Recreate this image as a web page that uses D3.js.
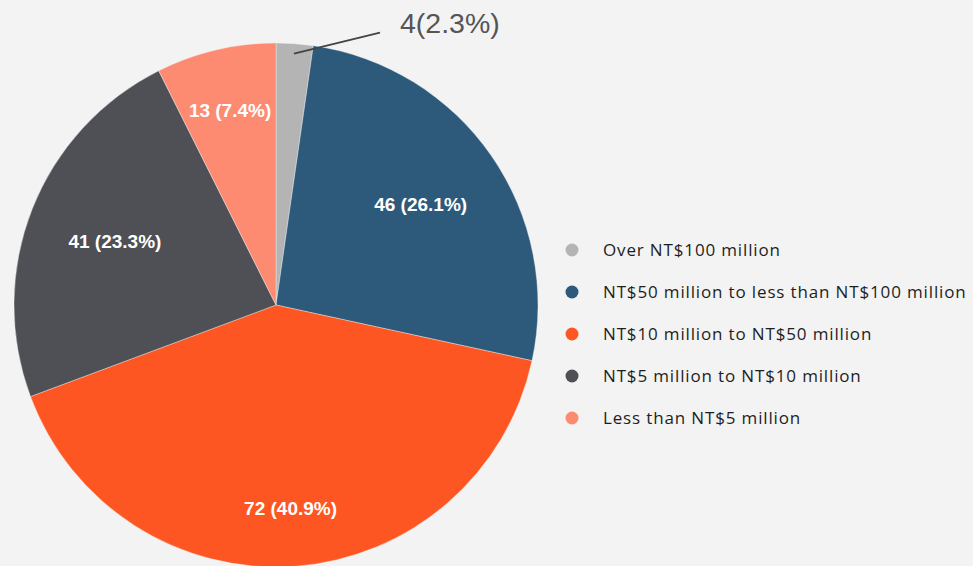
<!DOCTYPE html>
<html>
<head>
<meta charset="utf-8">
<script src="https://cdn.jsdelivr.net/npm/d3@7"></script>
<style>
  body { margin: 0; background: #f3f3f3; }
  svg { display: block; }
</style>
</head>
<body>
<div id="chart"></div>
<script>
// data, in drawing order (clockwise from 12 o'clock)
var categories = [
  "Over NT$100 million",
  "NT$50 million to less than NT$100 million",
  "NT$10 million to NT$50 million",
  "NT$5 million to NT$10 million",
  "Less than NT$5 million"
];
var counts = [4, 46, 72, 41, 13];
var percents = ["2.3%", "26.1%", "40.9%", "23.3%", "7.4%"];
var colors = ["#b4b4b4", "#2d5a7b", "#fe5622", "#4e5055", "#fd8b72"];

var svgWidth = 973;
var svgHeight = 566;

var cx = 276, cy = 305, radius = 262;

var svg = d3.select("#chart")
  .append("svg")
  .attr("width", svgWidth)
  .attr("height", svgHeight);

svg.append("rect")
  .attr("width", svgWidth)
  .attr("height", svgHeight)
  .attr("fill", "#f3f3f3");

var data = categories.map(function(c, i) {
  return { name: c, count: counts[i], pct: percents[i], color: colors[i] };
});

var pie = d3.pie()
  .value(d => d.count)
  .sort(null);

var arcs = pie(data);

var arc = d3.arc()
  .innerRadius(0)
  .outerRadius(radius);

var pieGroup = svg.append("g")
  .attr("transform", `translate(${cx}, ${cy})`);

pieGroup.selectAll("path")
  .data(arcs)
  .enter()
  .append("path")
  .attr("d", arc)
  .attr("fill", d => d.data.color)
  .attr("stroke", "#f3f3f3")
  .attr("stroke-width", 0.4);

// inside labels: push each label out until its outer corner touches labelR
var labelR = 219;
var big = arcs.filter(d => d.data.count > 10);

var labels = pieGroup.selectAll("text.inside")
  .data(big)
  .enter()
  .append("text")
  .attr("class", "inside")
  .attr("text-anchor", "middle")
  .attr("font-family", "Liberation Sans, Arial, sans-serif")
  .attr("font-weight", "bold")
  .attr("font-size", "19px")
  .attr("fill", "#ffffff")
  .text(d => `${d.data.count} (${d.data.pct})`);

labels.each(function(d) {
  var w = this.getComputedTextLength();
  var h = 13;
  var a = (d.startAngle + d.endAngle) / 2;
  var s = Math.abs(Math.sin(a)), c = Math.abs(Math.cos(a));
  var b = s * w + c * h;
  var k = (w * w + h * h) / 4 - labelR * labelR;
  var dist = (-b + Math.sqrt(b * b - 4 * k)) / 2;
  var x = dist * Math.sin(a);
  var y = -dist * Math.cos(a);
  d3.select(this)
    .attr("x", x)
    .attr("y", y + h / 2);
});

// outside label for the small slice, with a leader line
var small = arcs.filter(d => d.data.count <= 10);
small.forEach(function(d) {
  var a = (d.startAngle + d.endAngle) / 2;
  var r0 = radius - 10;
  var x0 = r0 * Math.sin(a), y0 = -r0 * Math.cos(a);
  var x1 = x0 + 86, y1 = y0 - 21;
  pieGroup.append("line")
    .attr("x1", x0).attr("y1", y0)
    .attr("x2", x1).attr("y2", y1)
    .attr("stroke", "#444444")
    .attr("stroke-width", 2);
  pieGroup.append("text")
    .attr("x", x1 + 20)
    .attr("y", y1 + 0)
    .attr("font-family", "Liberation Sans, Arial, sans-serif")
    .attr("font-size", "28.5px")
    .attr("fill", "#555555")
    .text(`${d.data.count}(${d.data.pct})`);
});

// legend
var legendX = 572, legendY = 250, legendStep = 42;

var legend = svg.append("g")
  .attr("transform", `translate(${legendX}, ${legendY})`);

var items = legend.selectAll("g")
  .data(data)
  .enter()
  .append("g")
  .attr("transform", (d, i) => `translate(0, ${i * legendStep})`);

items.append("circle")
  .attr("r", 6.5)
  .attr("fill", d => d.color);

items.append("text")
  .attr("x", 31)
  .attr("y", 6)
  .attr("font-family", "Open Sans, sans-serif")
  .attr("font-size", "17px")
  .attr("letter-spacing", "0.85px")
  .attr("fill", "#1e1e1e")
  .text(d => d.name);
</script>
</body>
</html>
